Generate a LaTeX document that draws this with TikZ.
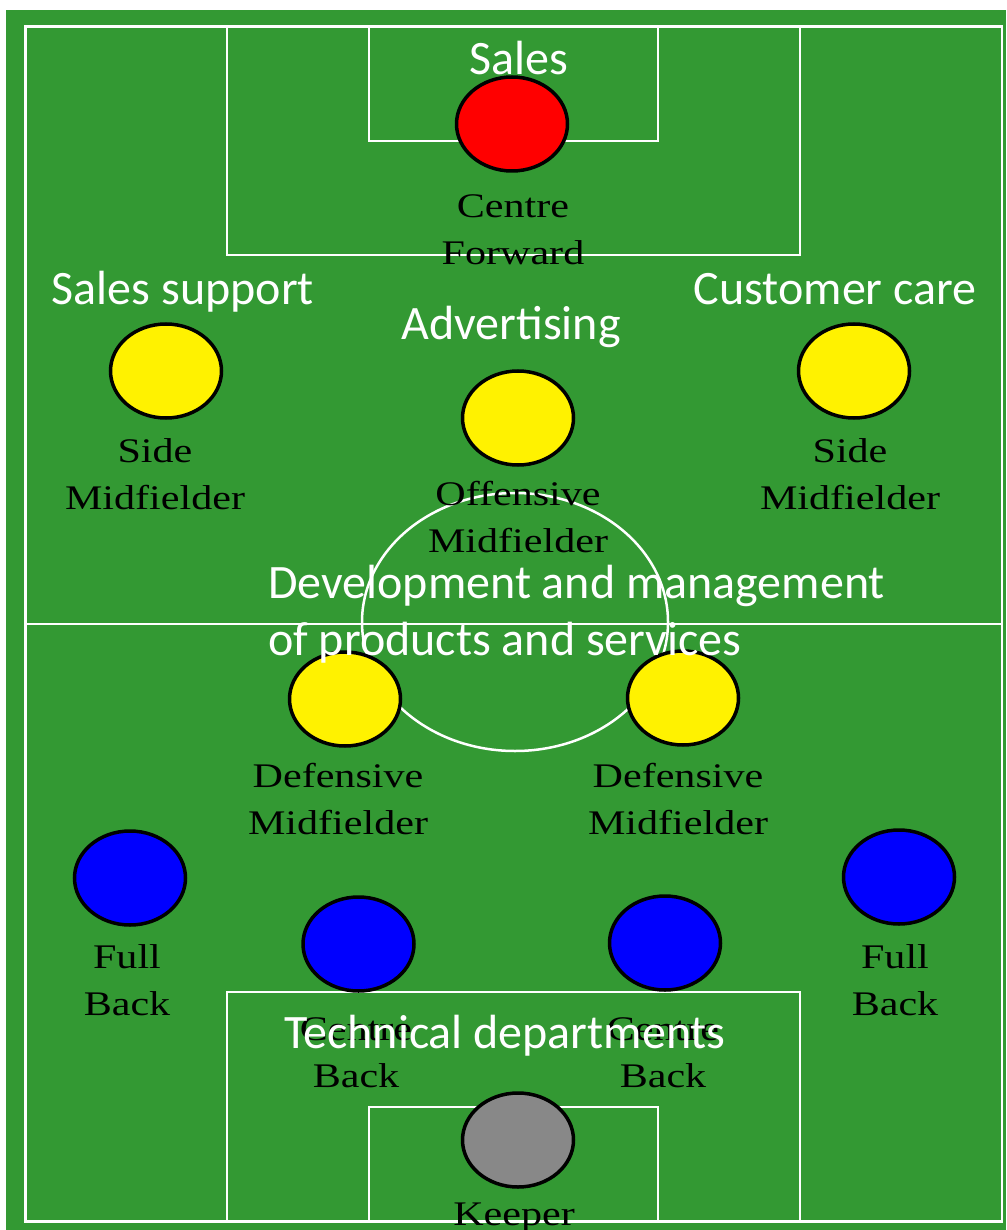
\documentclass[tikz,border=0pt]{standalone}
\usepackage{fontspec}
\newfontfamily\serlab[FakeStretch=1.22]{Liberation Serif}
\newfontfamily\sanslab{Carlito}
\definecolor{pitch}{RGB}{51,153,51}
\definecolor{keepergrey}{RGB}{136,136,136}
\tikzset{
  pline/.style={draw=white,line width=2.5pt},
  player/.style={ellipse,draw=black,line width=3.5pt,minimum width=111pt,minimum height=94pt,inner sep=0pt},
  poslabel/.style={font=\serlab\fontsize{34.5}{47}\selectfont,text=black,align=center,anchor=base,inner sep=0pt},
  deptlabel/.style={font=\sanslab\fontsize{48}{57}\selectfont,text=white,anchor=base,inner sep=0pt}
}
\usetikzlibrary{shapes.geometric}
\begin{document}
\begin{tikzpicture}[x=1pt,y=-1pt]
\useasboundingbox (0,0) rectangle (1006,1230);
\fill[white] (0,0) rectangle (1006,1230);
\fill[pitch] (6,10) rectangle (1006,1230);
% pitch markings
\draw[pline] (25.3,26.4) rectangle (1002,1221.3);
\draw[pline] (25.3,624) -- (1002,624);
\draw[pline] (515,622) ellipse [x radius=153,y radius=129];
\draw[pline] (227,26.4) -- (227,255) -- (800,255) -- (800,26.4);
\draw[pline] (369,26.4) -- (369,141) -- (658,141) -- (658,26.4);
\draw[pline] (227,1221.3) -- (227,992) -- (800,992) -- (800,1221.3);
\draw[pline] (369,1221.3) -- (369,1107) -- (658,1107) -- (658,1221.3);
% players
\node[player,fill=red] (cf) at (512,124) {};
\node[player,fill=yellow] (smL) at (166,371) {};
\node[player,fill=yellow] (smR) at (854,371) {};
\node[player,fill=yellow] (om) at (518,418) {};
\node[player,fill=yellow] (dmL) at (345,699) {};
\node[player,fill=yellow] (dmR) at (683,698) {};
\node[player,fill=blue] (fbL) at (130,878) {};
\node[player,fill=blue] (fbR) at (899,877) {};
\node[player,fill=blue] (cbL) at (358.5,944) {};
\node[player,fill=blue] (cbR) at (665,943) {};
\node[player,fill=keepergrey] (gk) at (518,1140) {};
% position labels (base = baseline of last line)
\node[poslabel] (lcf) at (513,265) {Centre\\Forward};
\node[poslabel] (lsmL) at (155,509) {Side\\Midfielder};
\node[poslabel] (lsmR) at (850,509) {Side\\Midfielder};
\node[poslabel] (lom) at (518,552) {Offensive\\Midfielder};
\node[poslabel] (ldmL) at (338,834) {Defensive\\Midfielder};
\node[poslabel] (ldmR) at (678,834) {Defensive\\Midfielder};
\node[poslabel] (lfbL) at (127,1015) {Full\\Back};
\node[poslabel] (lfbR) at (895,1015) {Full\\Back};
\node[poslabel] (lcbL) at (356,1087) {Centre\\Back};
\node[poslabel] (lcbR) at (663,1087) {Centre\\Back};
\node[poslabel] (lgk) at (514,1225) {Keeper};
% department labels
\node[deptlabel] (dsales) at (519,75) {Sales};
\node[deptlabel] (dsupport) at (183,305) {Sales support};
\node[deptlabel] (dcare) at (835,305) {Customer care};
\node[deptlabel] (dadv) at (511,339) {Advertising};
\node[deptlabel,anchor=base west,align=left] (ddev) at (268,655) {Development and management\\of products and services};
\node[deptlabel] (dtech) at (505,1048) {Technical departments};
\end{tikzpicture}
\end{document}
